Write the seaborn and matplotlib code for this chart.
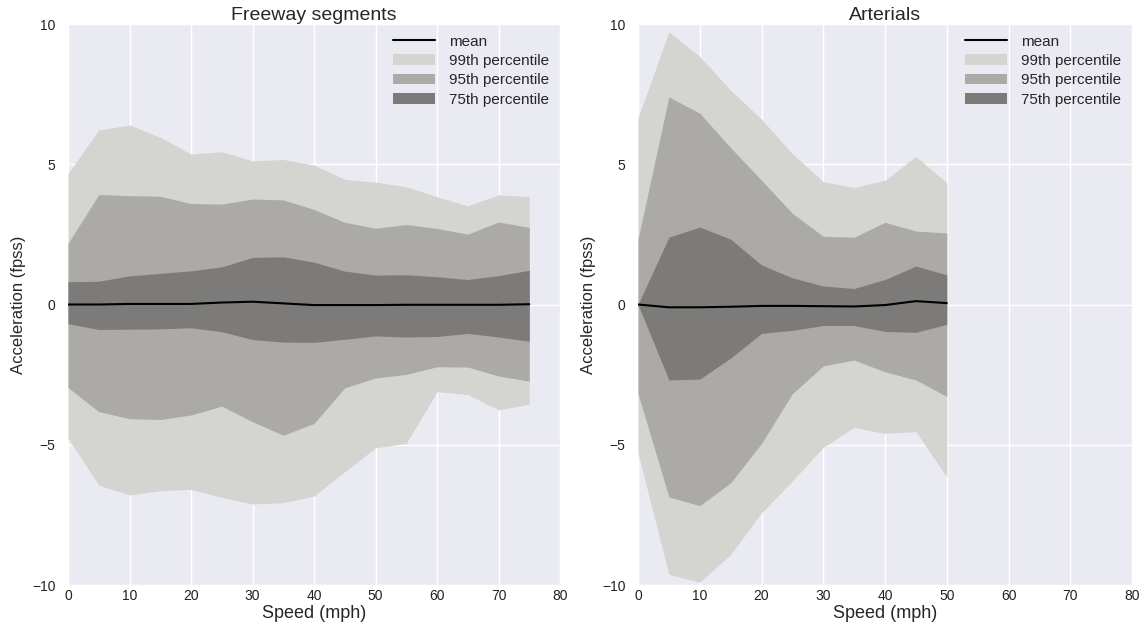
import matplotlib
matplotlib.use("Agg")
import matplotlib.pyplot as plt
import seaborn as sns
import numpy as np
import pandas as pd

# ---------------- data ----------------
speed_fw = [0, 5, 10, 15, 20, 25, 30, 35, 40, 45, 50, 55, 60, 65, 70, 75]
fw_mean = [0.0, 0.0, 0.02, 0.02, 0.02, 0.07, 0.1, 0.04, -0.02, -0.02, -0.02, -0.01, -0.01, -0.01, -0.01, 0.01]
fw_p99_hi = [4.67, 6.22, 6.40, 5.96, 5.36, 5.45, 5.12, 5.17, 4.97, 4.46, 4.36, 4.20, 3.84, 3.52, 3.91, 3.85]
fw_p95_hi = [2.18, 3.92, 3.88, 3.86, 3.60, 3.58, 3.76, 3.73, 3.39, 2.93, 2.72, 2.85, 2.71, 2.51, 2.94, 2.75]
fw_p75_hi = [0.81, 0.83, 1.02, 1.11, 1.20, 1.34, 1.68, 1.70, 1.51, 1.19, 1.05, 1.06, 0.99, 0.89, 1.03, 1.22]
fw_p75_lo = [-0.68, -0.89, -0.88, -0.87, -0.83, -0.97, -1.25, -1.34, -1.35, -1.24, -1.12, -1.16, -1.14, -1.03, -1.16, -1.31]
fw_p95_lo = [-2.96, -3.82, -4.07, -4.10, -3.94, -3.62, -4.18, -4.66, -4.24, -2.97, -2.62, -2.49, -2.22, -2.23, -2.55, -2.73]
fw_p99_lo = [-4.77, -6.44, -6.79, -6.64, -6.59, -6.88, -7.11, -7.07, -6.83, -5.96, -5.11, -4.95, -3.11, -3.21, -3.76, -3.55]

speed_ar = [0, 5, 10, 15, 20, 25, 30, 35, 40, 45, 50]
ar_mean = [0.0, -0.10, -0.10, -0.08, -0.05, -0.05, -0.06, -0.07, -0.02, 0.12, 0.05]
ar_p99_hi = [6.65, 9.72, 8.84, 7.64, 6.61, 5.37, 4.38, 4.17, 4.43, 5.28, 4.34]
ar_p95_hi = [2.33, 7.40, 6.82, 5.59, 4.43, 3.25, 2.43, 2.40, 2.93, 2.62, 2.55]
ar_p75_hi = [0.0, 2.40, 2.76, 2.33, 1.41, 0.95, 0.66, 0.57, 0.89, 1.37, 1.06]
ar_p75_lo = [0.0, -2.69, -2.66, -1.91, -1.03, -0.92, -0.75, -0.75, -0.96, -0.99, -0.71]
ar_p95_lo = [-3.18, -6.86, -7.17, -6.36, -4.95, -3.18, -2.19, -1.98, -2.40, -2.69, -3.28]
ar_p99_lo = [-5.30, -9.62, -9.90, -8.91, -7.43, -6.29, -5.09, -4.38, -4.60, -4.53, -6.15]

titles = ["Freeway segments", "Arterials"]
band_labels = ["99th percentile", "95th percentile", "75th percentile"]
x_ticks = [0, 10, 20, 30, 40, 50, 60, 70, 80]
y_ticks = [-10, -5, 0, 5, 10]

# ---------------- style ----------------
sns.set_style("darkgrid", {"axes.facecolor": "#eaeaf2", "grid.color": "white"})
plt.rcParams["font.family"] = ["Liberation Sans", "DejaVu Sans"]

band_colors = ["#d4d5d0", "#abaaa6", "#7c7b79"]

fig = plt.figure(figsize=(11.43, 6.25), dpi=100)
ax1 = fig.add_axes([68 / 1143, 1 - 585 / 625, 492 / 1143, 561 / 625])
ax2 = fig.add_axes([638 / 1143, 1 - 585 / 625, 494 / 1143, 561 / 625])

panels = [
    (ax1, speed_fw, fw_mean, [(fw_p99_lo, fw_p99_hi), (fw_p95_lo, fw_p95_hi), (fw_p75_lo, fw_p75_hi)]),
    (ax2, speed_ar, ar_mean, [(ar_p99_lo, ar_p99_hi), (ar_p95_lo, ar_p95_hi), (ar_p75_lo, ar_p75_hi)]),
]

for (ax, spd, mean, bands), title in zip(panels, titles):
    fills = []
    for (lo, hi), col, lab in zip(bands, band_colors, band_labels):
        f = ax.fill_between(spd, lo, hi, color=col, linewidth=0, label=lab, zorder=2)
        fills.append(f)
    df = pd.DataFrame({"speed": spd, "mean": mean})
    sns.lineplot(data=df, x="speed", y="mean", color="black", linewidth=1.5,
                 ax=ax, label="mean", zorder=3, legend=False)
    line = ax.get_lines()[-1]
    ax.set_xlim(0, 80)
    ax.set_ylim(-10, 10)
    ax.set_xticks(x_ticks)
    ax.set_yticks(y_ticks)
    ax.tick_params(axis="both", length=0, labelsize=10, colors="#222222")
    ax.tick_params(axis="y", pad=9)
    ax.tick_params(axis="x", pad=3)
    ax.set_title(title, fontsize=14, pad=3)
    ax.set_xlabel("Speed (mph)", fontsize=13, labelpad=1)
    ax.set_ylabel("Acceleration (fpss)", fontsize=12, labelpad=4)
    ax.grid(True, color="white", linewidth=1)
    ax.set_axisbelow(True)
    for s in ax.spines.values():
        s.set_visible(False)
    leg = ax.legend([line] + fills, ["mean"] + band_labels, loc="upper right",
                    frameon=False, fontsize=11, handlelength=2.8, handletextpad=0.9,
                    labelspacing=0.35, borderaxespad=0.3)

fig.savefig("out.png", dpi=100)
